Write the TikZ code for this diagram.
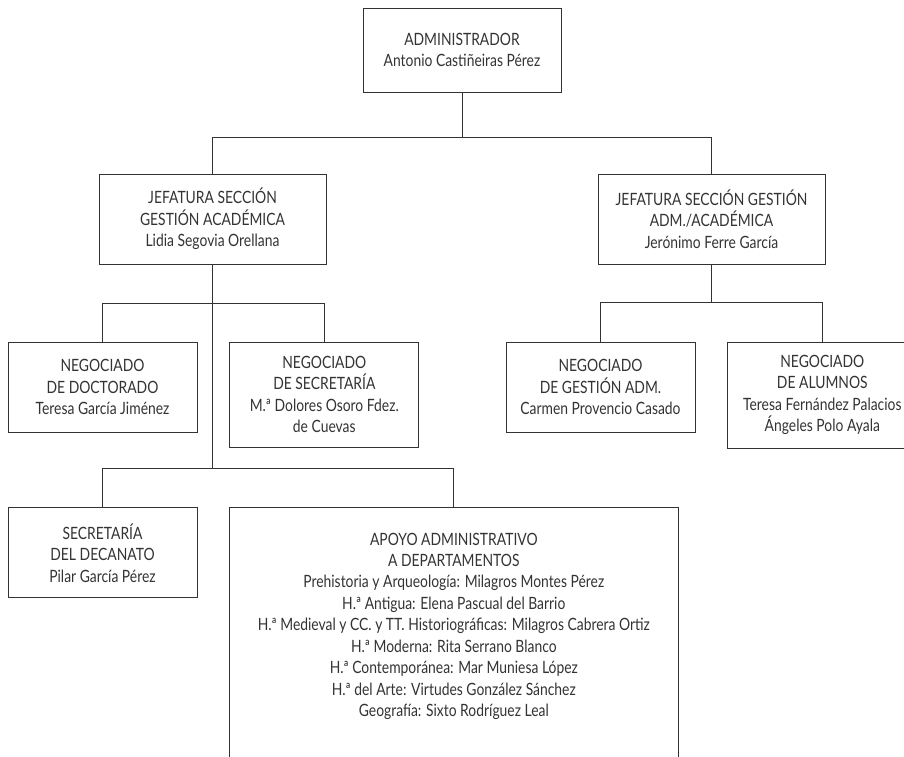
\documentclass[tikz,border=0pt]{standalone}
\usepackage{fontspec}
\setmainfont{Lato}[FakeStretch=0.82]
\usetikzlibrary{positioning,calc}

\begin{document}
\begin{tikzpicture}[x=1bp,y=-1bp]

\tikzstyle{unitbox}=[draw=black!80, line width=0.8bp, align=center, inner sep=0pt, minimum width=189bp, text=black!80, font=\fontsize{17}{21.5}\selectfont]
\tikzstyle{link}=[draw=black!80, line width=0.8bp]

\useasboundingbox (0,0) rectangle (904,757);

% NODES
% top
\node[unitbox, minimum width=198bp, minimum height=84bp](admin) at (462,50){ADMINISTRADOR\\Antonio Castiñeiras Pérez};

% jefaturas
\node[unitbox, minimum width=227bp, minimum height=90bp](jefaca) at (212.5,219){JEFATURA SECCIÓN\\GESTIÓN ACADÉMICA\\Lidia Segovia Orellana};
\node[unitbox, minimum width=227bp, minimum height=90bp](jefadm) at (711.5,219){JEFATURA SECCIÓN GESTIÓN\\ADM./ACADÉMICA\\Jerónimo Ferre García};

% negociados
\node[unitbox, minimum height=90bp](doct) at (102.5,387){NEGOCIADO\\DE DOCTORADO\\Teresa García Jiménez};
\node[unitbox, minimum height=105bp, right=32bp of doct.north east, anchor=north west](secr){NEGOCIADO\\DE SECRETARÍA\\M.ª Dolores Osoro Fdez.\\de Cuevas};
\node[unitbox, minimum height=90bp](gest) at (600.5,387){NEGOCIADO\\DE GESTIÓN ADM.\\Carmen Provencio Casado};
\node[unitbox, minimum height=106bp, right=32bp of gest.north east, anchor=north west](alum){NEGOCIADO\\DE ALUMNOS\\Teresa Fernández Palacios\\Ángeles Polo Ayala};

% decanato y apoyo
\node[unitbox, minimum height=90bp, below=75bp of doct](deca){SECRETARÍA\\DEL DECANATO\\Pilar García Pérez};
\node[unitbox, draw=none, minimum width=448bp, inner ysep=25bp, right=32bp of deca.north east, anchor=north west](apoyo){APOYO ADMINISTRATIVO\\A DEPARTAMENTOS\\Prehistoria y Arqueología: Milagros Montes Pérez\\H.ª Antigua: Elena Pascual del Barrio\\H.ª Medieval y CC. y TT. Historiográficas: Milagros Cabrera Ortiz\\H.ª Moderna: Rita Serrano Blanco\\H.ª Contemporánea: Mar Muniesa López\\H.ª del Arte: Virtudes González Sánchez\\Geografía: Sixto Rodríguez Leal};
\draw[link]([yshift=-255bp]apoyo.north west) -- (apoyo.north west) -- (apoyo.north east) -- ([yshift=-255bp]apoyo.north east);

% ARROWS
\coordinate(f1) at ($(admin.south)+(0,45)$);
\draw[link](admin.south) -- (f1);
\draw[link](f1) -| (jefaca.north);
\draw[link](f1) -| (jefadm.north);

\coordinate(f2) at ($(jefaca.south)+(0,39)$);
\coordinate(f3) at ($(jefaca.south)+(0,204)$);
\draw[link](jefaca.south) -- (f3);
\draw[link](f2) -| (doct.north);
\draw[link](f2) -| (secr.north);
\draw[link](f3) -| (deca.north);
\draw[link](f3) -| (apoyo.north);

\coordinate(f4) at ($(jefadm.south)+(0,38)$);
\draw[link](jefadm.south) -- (f4);
\draw[link](f4) -| (gest.north);
\draw[link](f4) -| (alum.north);

\end{tikzpicture}
\end{document}
